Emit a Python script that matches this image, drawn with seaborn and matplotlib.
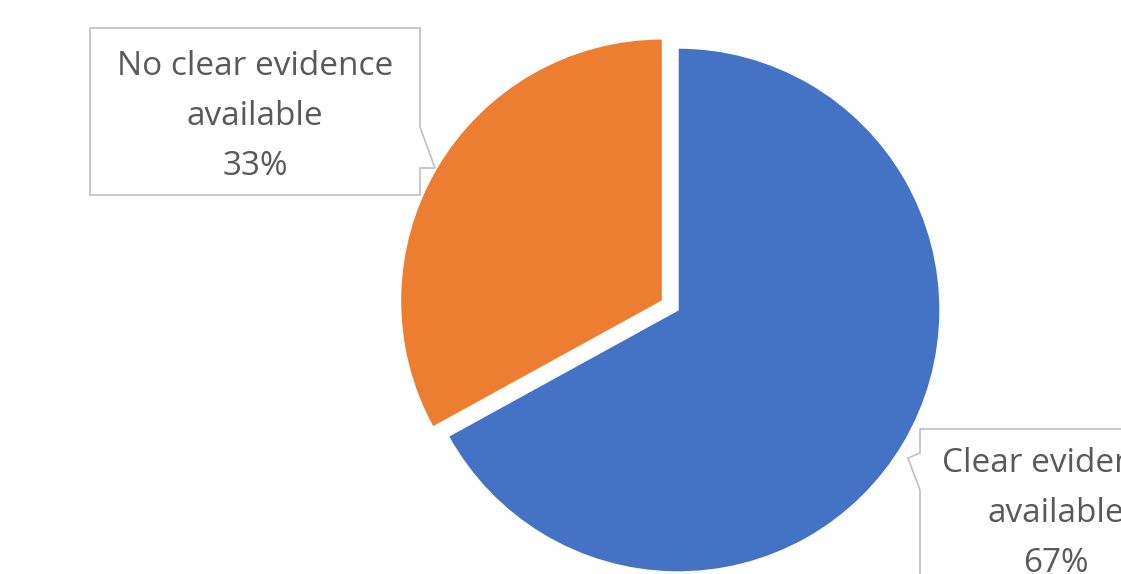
import matplotlib
matplotlib.use("Agg")
import matplotlib.pyplot as plt
from matplotlib.patches import Polygon
import seaborn as sns

# Data
categories = ["Clear evidence\navailable", "No clear evidence\navailable"]
shares = [67, 33]
colors = ["#4472C4", "#ED7D31"]

sns.set_theme(style="white")
plt.rcParams["font.family"] = ["Open Sans", "DejaVu Sans"]

W, H = 1121, 574
fig = plt.figure(figsize=(W / 100, H / 100), dpi=100)
ax = fig.add_axes([0, 0, 1, 1])
ax.set_xlim(0, W)
ax.set_ylim(0, H)
ax.set_axis_off()


def Y(y):
    # convert a top-down pixel row into the axes' bottom-up coordinate
    return H - y


radius = 262
center = (678, Y(310))
ax.pie(shares, colors=colors, startangle=90, counterclock=False,
       explode=[0, 18], radius=radius, center=center,
       wedgeprops=dict(edgecolor="white", linewidth=1.0))
ax.set_xlim(0, W)
ax.set_ylim(0, H)
ax.set_aspect("auto")

box_style = dict(facecolor="white", edgecolor="#BFBFBF", linewidth=1.2, zorder=3)

# callout for the orange slice (pointer on the right side)
left_box = [(90, 28), (420, 28), (420, 127), (435, 168), (420, 168),
            (420, 195), (90, 195)]
ax.add_patch(Polygon([(x, Y(y)) for x, y in left_box], closed=True, **box_style))

# callout for the blue slice (pointer on the left side)
right_box = [(920, 429), (1135, 429), (1135, 590), (920, 590), (920, 490),
             (908, 458), (920, 453)]
ax.add_patch(Polygon([(x, Y(y)) for x, y in right_box], closed=True, **box_style))

text_kw = dict(color="#595959", fontsize=24, ha="center", va="baseline", zorder=4)


def callout_text(cx, first_baseline, label, value, step=50):
    lines = label.split("\n") + [f"{value}%"]
    for i, line in enumerate(lines):
        ax.text(cx, Y(first_baseline + i * step), line, **text_kw)


callout_text(255, 75, categories[1], shares[1])
callout_text(1056, 472, categories[0], shares[0])

fig.savefig("out.png", dpi=100)
